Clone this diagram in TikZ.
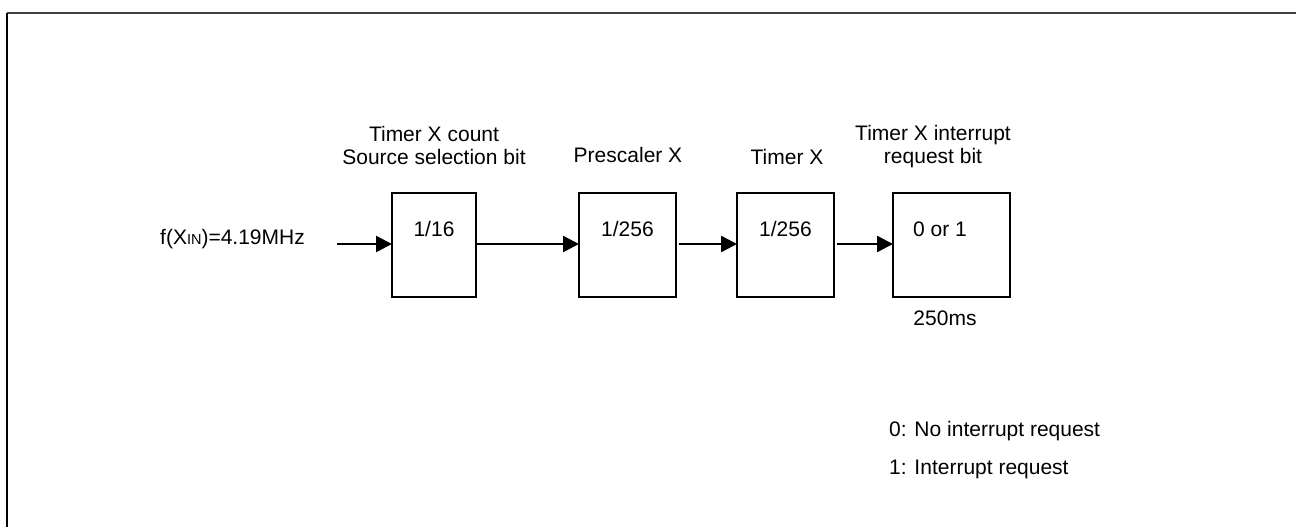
\documentclass[tikz,border=0pt]{standalone}
\usepackage{fontspec}
\setmainfont{Liberation Sans}
\usetikzlibrary{arrows.meta}
\begin{document}
\begin{tikzpicture}[x=1pt,y=-1pt,
  blk/.style={draw=black,line width=2.5pt},
  lbl/.style={anchor=base,inner sep=0pt,font=\fontsize{21}{23}\selectfont},
  arr/.style={line width=2.5pt,-{Triangle[length=16pt,width=16pt]}}]
\useasboundingbox (0,0) rectangle (1296,527);
% frame
\draw[line width=2.5pt,draw=black!75] (1296,13) -- (7,13);
\draw[line width=2.5pt] (7,13) -- (7,527);
% boxes
\draw[blk] (392,193) rectangle (476,297);
\coordinate (b1w) at (392,244); \coordinate (b1e) at (476,244);
\draw[blk] (579,193) rectangle (676,297);
\coordinate (b2w) at (579,244); \coordinate (b2e) at (676,244);
\draw[blk] (737,193) rectangle (834,297);
\coordinate (b3w) at (737,244); \coordinate (b3e) at (834,244);
\draw[blk] (893,193) rectangle (1010,297);
\coordinate (b4w) at (893,244);
% box texts
\node[lbl] (t1) at (434,236) {1/16};
\node[lbl] (t2) at (627.5,236) {1/256};
\node[lbl] (t3) at (785.5,236) {1/256};
\node[lbl] (t4) at (940,236) {0 or 1};
% labels above
\node[lbl] (l1a) at (434,141) {Timer X count};
\node[lbl] (l1b) at (434,164) {Source selection bit};
\node[lbl] (l2) at (628,162) {Prescaler X};
\node[lbl] (l3) at (787,164) {Timer X};
\node[lbl] (l4a) at (933,140) {Timer X interrupt};
\node[lbl] (l4b) at (933,163) {request bit};
% input
\node[lbl,anchor=base west] (in) at (160,244) {f(X{\fontsize{14.5}{16}\selectfont IN})=4.19MHz};
\coordinate (s0) at (337,244);
\coordinate (s2) at (679,244);
\coordinate (s3) at (837,244);
% arrows
\draw[arr] (s0) -- (b1w);
\draw[arr] (b1e) -- (b2w);
\draw[arr] (s2) -- (b3w);
\draw[arr] (s3) -- (b4w);
% notes
\node[lbl] (ms) at (945,325) {250ms};
\node[lbl,anchor=base west] (n0) at (889,436) {0: No interrupt request};
\node[lbl,anchor=base west] (n1) at (889,474) {1: Interrupt request};
\end{tikzpicture}
\end{document}
